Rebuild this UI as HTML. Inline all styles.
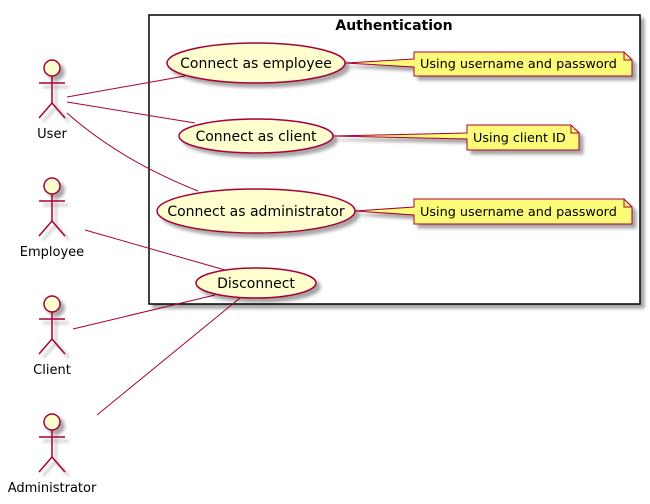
<!DOCTYPE html>
<html><head><style>body{margin:0;background:#fff}svg{display:block}text{font-family:"DejaVu Sans","Liberation Sans",sans-serif}</style></head><body>
<svg width="650" height="504" viewBox="0 0 650 504" xmlns="http://www.w3.org/2000/svg">
<defs><filter id="sh" x="-20%" y="-20%" width="150%" height="160%"><feGaussianBlur in="SourceAlpha" stdDeviation="1.5"/><feOffset dx="4" dy="4"/><feComponentTransfer><feFuncA type="linear" slope="0.35"/></feComponentTransfer><feMerge><feMergeNode/><feMergeNode in="SourceGraphic"/></feMerge></filter></defs>
<rect x="149" y="15" width="491" height="289" fill="#fff" stroke="#000" stroke-width="1.5" filter="url(#sh)"/>
<text x="394" y="30" font-size="14" font-weight="bold" text-anchor="middle">Authentication</text>
<g stroke="#A80036" fill="none" stroke-width="1">
<line x1="67" y1="97" x2="185" y2="76"/>
<line x1="67" y1="102" x2="195" y2="123"/>
<path d="M67 113 Q120 160 198 191"/>
<line x1="85" y1="230" x2="225" y2="270"/>
<line x1="73" y1="329" x2="215" y2="295"/>
<line x1="97" y1="415" x2="240" y2="298"/>
</g>
<g fill="#FEFECE" stroke="#A80036" stroke-width="1.5" filter="url(#sh)">
<ellipse cx="256" cy="63" rx="89" ry="20"/>
<ellipse cx="256" cy="136" rx="77" ry="17"/>
<ellipse cx="256" cy="211" rx="99" ry="22"/>
<ellipse cx="256" cy="283" rx="60" ry="15"/>
</g>
<g font-size="14" text-anchor="middle" fill="#000">
<text x="256" y="68">Connect as employee</text>
<text x="256" y="141">Connect as client</text>
<text x="256" y="216">Connect as administrator</text>
<text x="256" y="288">Disconnect</text>
</g>
<g fill="#FBFB77" stroke="#A80036" stroke-width="1" filter="url(#sh)">
<path d="M345 63 L414 59 L414 52 L624 52 L632 60 L632 76 L414 76 L414 67 Z"/>
<path d="M333 136 L467 133 L467 125 L571 125 L579 133 L579 150 L467 150 L467 139 Z"/>
<path d="M355 211 L414 207 L414 199 L624 199 L632 207 L632 224 L414 224 L414 215 Z"/>
</g>
<g stroke="#A80036" fill="none"><path d="M624 52 L624 60 L632 60"/><path d="M571 125 L571 133 L579 133"/><path d="M624 199 L624 207 L632 207"/></g>
<g font-size="12.8" fill="#000">
<text x="420" y="68">Using username and password</text>
<text x="473" y="142">Using client ID</text>
<text x="420" y="216">Using username and password</text>
</g>
<defs><g id="actor"><circle cx="0" cy="8" r="8" fill="#FEFECE"/><line x1="0" y1="16" x2="0" y2="43"/><line x1="-13" y1="23" x2="13" y2="23"/><path d="M-13 58 L0 43 L13 58" fill="none"/></g></defs>
<g stroke="#A80036" stroke-width="1.5" filter="url(#sh)">
<use href="#actor" transform="translate(52,60)"/>
<use href="#actor" transform="translate(52,178)"/>
<use href="#actor" transform="translate(52,296)"/>
<use href="#actor" transform="translate(52,414)"/>
</g>
<g font-size="13" text-anchor="middle" fill="#000">
<text x="52" y="138">User</text>
<text x="52" y="256">Employee</text>
<text x="52" y="374">Client</text>
<text x="52" y="492">Administrator</text>
</g>
</svg>
</body></html>
